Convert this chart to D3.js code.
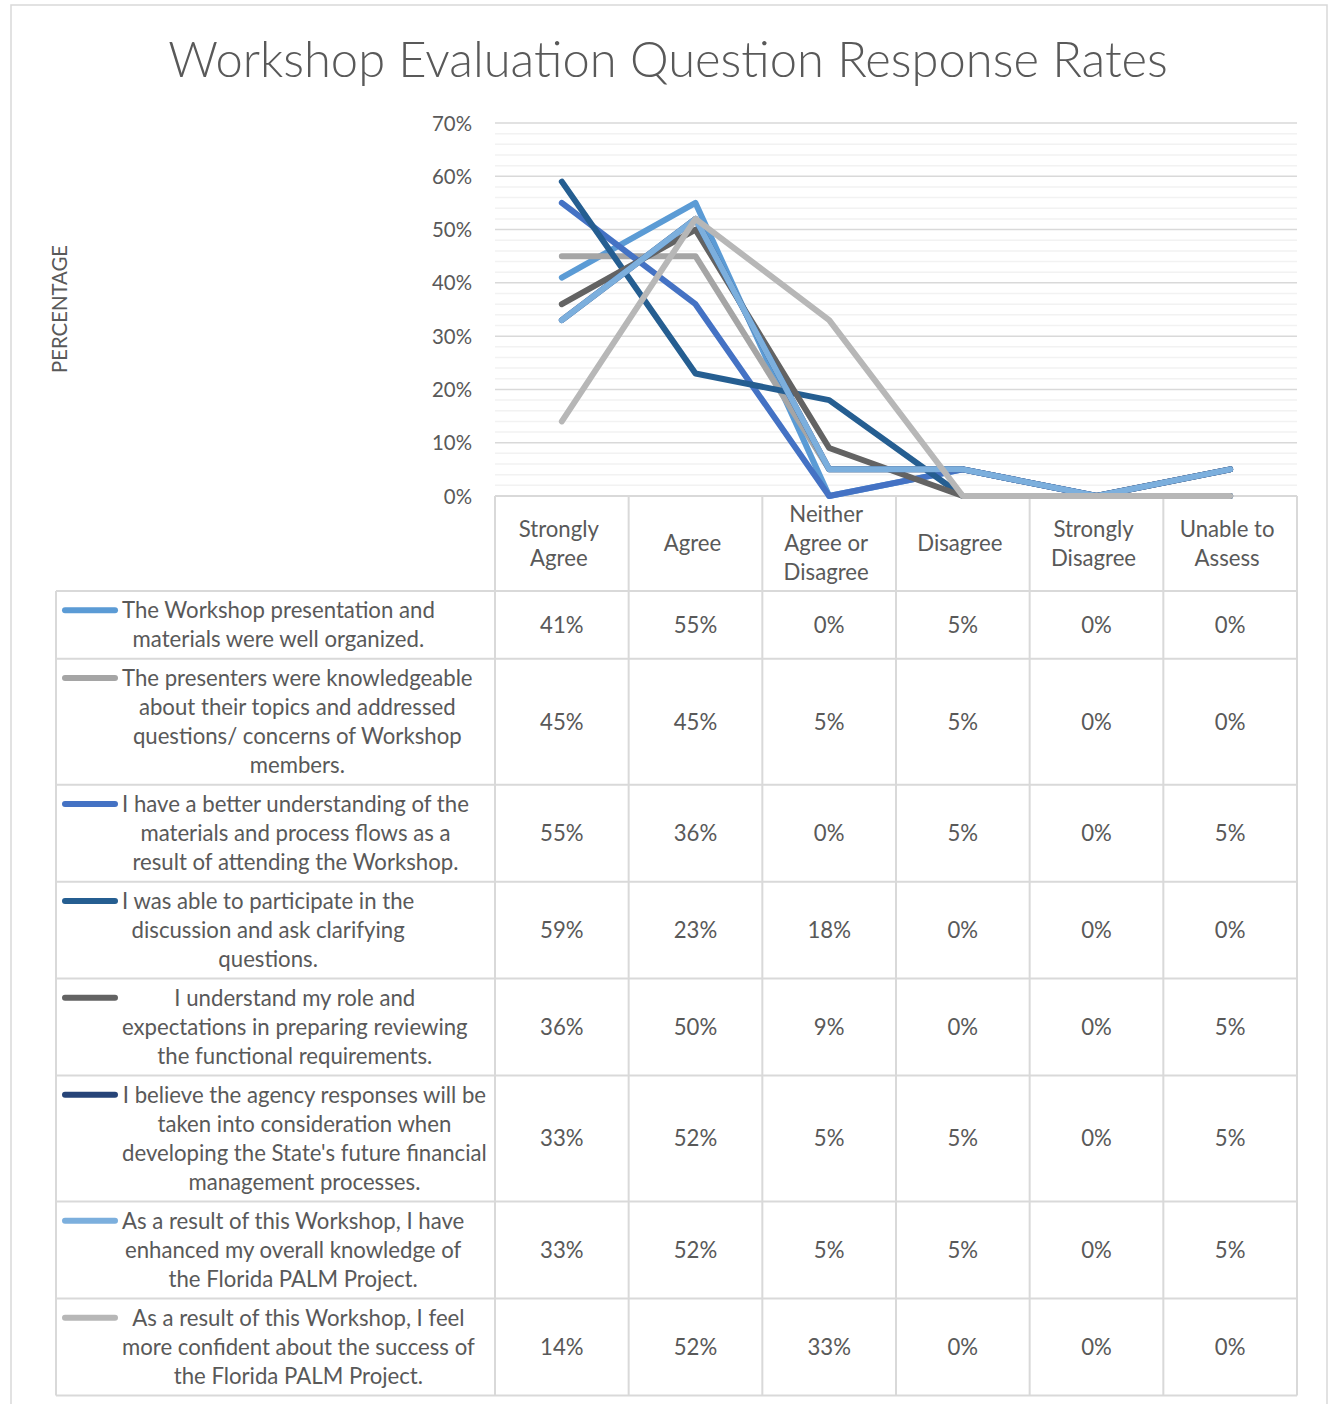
<!DOCTYPE html>
<html>
<head>
<meta charset="utf-8">
<script src="https://cdn.jsdelivr.net/npm/d3@7"></script>
<style>
  html, body { margin: 0; padding: 0; background: #fff; }
  svg { display: block; font-family: Lato, "Open Sans", sans-serif; }
</style>
</head>
<body>
<svg id="chart" width="1329" height="1404"></svg>
<script>
// ---------- DATA ----------
const title = "Workshop Evaluation Question Response Rates";
const yAxisTitle = "PERCENTAGE";
const categories = ["Strongly Agree", "Agree", "Neither Agree or Disagree", "Disagree", "Strongly Disagree", "Unable to Assess"];
const categoryLines = [["Strongly", "Agree"], ["Agree"], ["Neither", "Agree or", "Disagree"], ["Disagree"], ["Strongly", "Disagree"], ["Unable to", "Assess"]];
const yTicks = [0, 0.1, 0.2, 0.3, 0.4, 0.5, 0.6, 0.7];
const seriesLabels = [
  ["The Workshop presentation and", "materials were well organized."],
  ["The presenters were knowledgeable", "about their topics and addressed", "questions/ concerns of Workshop", "members."],
  ["I have a better understanding of the", "materials and process flows as a", "result of attending the Workshop."],
  ["I was able to participate in the", "discussion and ask clarifying", "questions."],
  ["I understand my role and", "expectations in preparing reviewing", "the functional requirements."],
  ["I believe the agency responses will be", "taken into consideration when", "developing the State's future financial", "management processes."],
  ["As a result of this Workshop, I have", "enhanced my overall knowledge of", "the Florida PALM Project."],
  ["As a result of this Workshop, I feel", "more confident about the success of", "the Florida PALM Project."]
];
const s1 = [0.41, 0.55, 0.00, 0.05, 0.00, 0.00];
const s2 = [0.45, 0.45, 0.05, 0.05, 0.00, 0.00];
const s3 = [0.55, 0.36, 0.00, 0.05, 0.00, 0.05];
const s4 = [0.59, 0.23, 0.18, 0.00, 0.00, 0.00];
const s5 = [0.36, 0.50, 0.09, 0.00, 0.00, 0.05];
const s6 = [0.33, 0.52, 0.05, 0.05, 0.00, 0.05];
const s7 = [0.33, 0.52, 0.05, 0.05, 0.00, 0.05];
const s8 = [0.14, 0.52, 0.33, 0.00, 0.00, 0.00];
const seriesValues = [s1, s2, s3, s4, s5, s6, s7, s8];
const seriesColors = ["#5B9BD5", "#A5A5A5", "#4472C4", "#255E91", "#636363", "#264478", "#7CAFDD", "#B7B7B7"];

// ---------- LAYOUT ----------
const svg = d3.select("#chart");
const textColor = "#595959";
const gridMajor = "#D9D9D9", gridMinor = "#F2F2F2", border = "#D9D9D9";
const plotLeft = 495, plotRight = 1297, plotTop = 123, plotBottom = 496;
const headerBottom = 591;
const tableLeft = 56;
const lineH = 29.2;

// helper: font size that makes text reach a target width
function fitSize(text, target, weight) {
  const t = svg.append("text").attr("font-size", 100).attr("font-weight", weight || 400).text(text);
  const w = t.node().getComputedTextLength();
  t.remove();
  return 100 * target / w;
}

const x = d3.scaleBand().domain(categories).range([plotLeft, plotRight]).padding(0);
const y = d3.scaleLinear().domain([0, 0.7]).range([plotBottom, plotTop]);

// outer chart border
svg.append("rect").attr("x", 11).attr("y", 5).attr("width", 1316).attr("height", 1420)
  .attr("fill", "none").attr("stroke", border).attr("stroke-width", 1.5);

// title
const titleSize = fitSize(title, 1000, 300);
svg.append("text").attr("x", 668).attr("y", 77).attr("text-anchor", "middle")
  .attr("font-size", titleSize).attr("font-weight", 300).attr("fill", textColor).text(title);

// gridlines (minor every 2%, major every 10%)
const minor = d3.range(0, 71, 2).filter(v => v % 10 !== 0).map(v => v / 100);
svg.append("g").selectAll("line").data(minor).join("line")
  .attr("x1", plotLeft).attr("x2", plotRight)
  .attr("y1", d => y(d)).attr("y2", d => y(d))
  .attr("stroke", gridMinor).attr("stroke-width", 1.5);
svg.append("g").selectAll("line").data(yTicks.filter(d => d > 0)).join("line")
  .attr("x1", plotLeft).attr("x2", plotRight)
  .attr("y1", d => y(d)).attr("y2", d => y(d))
  .attr("stroke", gridMajor).attr("stroke-width", 1.5);

// y axis labels
const tickSize = fitSize("70%", 40);
const yAxis = d3.axisLeft(y).tickValues(yTicks).tickFormat(d3.format(".0%")).tickSize(0).tickPadding(0);
const yg = svg.append("g").attr("transform", `translate(472,0)`).call(yAxis);
yg.select(".domain").remove();
yg.selectAll("text").attr("font-size", tickSize).attr("fill", textColor)
  .attr("font-family", "Lato, 'Open Sans', sans-serif").attr("dy", "0.35em");

// y axis title
const ytSize = fitSize(yAxisTitle, 128);
svg.append("text").attr("transform", "translate(67,309) rotate(-90)").attr("text-anchor", "middle")
  .attr("font-size", ytSize).attr("fill", textColor).text(yAxisTitle);

// ---------- DATA TABLE ----------
const tblSize = fitSize(seriesLabels[0][0], 313);
const rowHeights = seriesLabels.map(l => l.length * lineH + 9.3);
const rowTops = [];
let acc = headerBottom;
rowHeights.forEach(h => { rowTops.push(acc); acc += h; });
const tableBottom = acc;

const tg = svg.append("g");
// header row text
categories.forEach((c, i) => {
  const lines = categoryLines[i];
  const cx = x(c) + x.bandwidth() / 2 - 3;
  const cy = (plotBottom + headerBottom) / 2;
  lines.forEach((ln, j) => {
    tg.append("text").attr("x", cx).attr("y", cy + (j - (lines.length - 1) / 2) * lineH)
      .attr("dy", "0.35em").attr("text-anchor", "middle").attr("font-size", tblSize)
      .attr("fill", textColor).text(ln);
  });
});

// body rows
seriesLabels.forEach((lines, r) => {
  const top = rowTops[r], h = rowHeights[r];
  const cy = top + h / 2;
  const widths = lines.map(ln => {
    const t = svg.append("text").attr("font-size", tblSize).text(ln);
    const w = t.node().getComputedTextLength(); t.remove(); return w;
  });
  const blockCx = 122 + d3.max(widths) / 2;
  const firstY = cy - (lines.length - 1) / 2 * lineH;
  lines.forEach((ln, j) => {
    tg.append("text").attr("x", blockCx).attr("y", firstY + j * lineH)
      .attr("dy", "0.35em").attr("text-anchor", "middle").attr("font-size", tblSize)
      .attr("fill", textColor).text(ln);
  });
  // legend key
  tg.append("line").attr("x1", 65).attr("x2", 115).attr("y1", firstY).attr("y2", firstY)
    .attr("stroke", seriesColors[r]).attr("stroke-width", 6).attr("stroke-linecap", "round");
  // values
  seriesValues[r].forEach((v, i) => {
    tg.append("text").attr("x", x(categories[i]) + x.bandwidth() / 2).attr("y", cy)
      .attr("dy", "0.35em").attr("text-anchor", "middle").attr("font-size", tblSize)
      .attr("fill", textColor).text(d3.format(".0%")(v));
  });
});

// table grid lines
const gl = svg.append("g").attr("stroke", border).attr("stroke-width", 2);
categories.forEach(c => {
  gl.append("line").attr("x1", x(c)).attr("x2", x(c)).attr("y1", plotBottom).attr("y2", tableBottom);
});
gl.append("line").attr("x1", plotRight).attr("x2", plotRight).attr("y1", plotBottom).attr("y2", tableBottom);
gl.append("line").attr("x1", tableLeft).attr("x2", tableLeft).attr("y1", headerBottom).attr("y2", tableBottom);
gl.append("line").attr("x1", plotLeft).attr("x2", plotRight).attr("y1", plotBottom).attr("y2", plotBottom);
rowTops.concat([tableBottom]).forEach(yy => {
  gl.append("line").attr("x1", tableLeft).attr("x2", plotRight).attr("y1", yy).attr("y2", yy);
});

// ---------- LINES ----------
const lineGen = d3.line()
  .x((d, i) => x(categories[i]) + x.bandwidth() / 2)
  .y(d => y(d));
svg.append("g").selectAll("path").data(seriesValues).join("path")
  .attr("d", d => lineGen(d))
  .attr("fill", "none")
  .attr("stroke", (d, i) => seriesColors[i])
  .attr("stroke-width", 6)
  .attr("stroke-linecap", "round")
  .attr("stroke-linejoin", "round");
</script>
</body>
</html>
